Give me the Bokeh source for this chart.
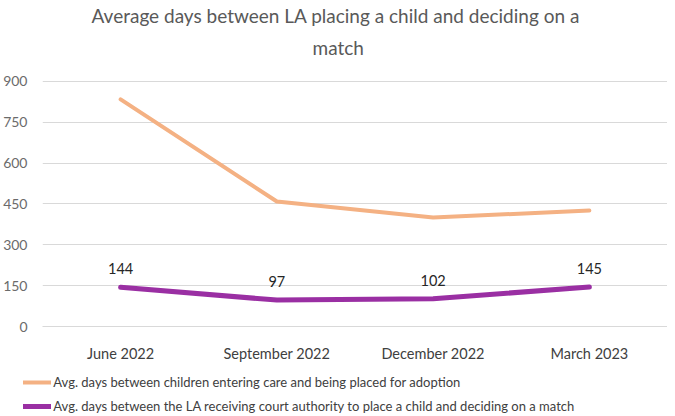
from bokeh.plotting import figure
from bokeh.layouts import column
from bokeh.models import ColumnDataSource, Legend, LegendItem, Range1d, FixedTicker, Title
from bokeh.core.properties import value
from bokeh.embed import file_html
from bokeh.resources import INLINE

categories = ["June 2022", "September 2022", "December 2022", "March 2023"]
series_entering = [834, 459, 400, 426]
series_court = [144, 97, 102, 145]
label_entering = "Avg. days between children entering care and being placed for adoption"
label_court = "Avg. days between the LA receiving court authority to place a child and deciding on a match"
title_lines = ["Average days between LA placing a child and deciding on a", "match"]
y_ticks = [0, 150, 300, 450, 600, 750, 900]

FONT = "Lato"
ORANGE = "#F4B183"
PURPLE = "#9A2FA3"

src = ColumnDataSource(dict(cat=categories, a=series_entering, b=series_court,
                            lab=[str(v) for v in series_court]))

# ---- main chart ----
p = figure(x_range=categories, y_range=Range1d(0, 966), frame_width=625, frame_height=263,
           output_backend="svg", toolbar_location=None,
           min_border_left=34, min_border_right=0, min_border_top=0, min_border_bottom=30)
p.outline_line_color = None

t2 = Title(text=title_lines[1], align="left", offset=270, standoff=10,
           text_font=FONT, text_font_size="19px", text_font_style="normal", text_color="#595959")
t1 = Title(text=title_lines[0], align="left", offset=49, standoff=3,
           text_font=FONT, text_font_size="19px", text_font_style="normal", text_color="#595959")
p.add_layout(t2, "above")
p.add_layout(t1, "above")

p.line("cat", "a", source=src, line_color=ORANGE, line_width=4,
       line_cap="round", line_join="round")
p.line("cat", "b", source=src, line_color=PURPLE, line_width=5,
       line_cap="round", line_join="round")
p.text("cat", "b", text="lab", source=src, text_font=value(FONT), text_font_size="14.5px",
       text_color="#262626", text_align="center", text_baseline="bottom", y_offset=-13)

p.xgrid.grid_line_color = None
p.ygrid.grid_line_color = "#d9d9d9"
p.ygrid.grid_line_width = 1
p.yaxis.ticker = FixedTicker(ticks=y_ticks)
p.yaxis.axis_line_color = None
p.yaxis.major_tick_line_color = None
p.yaxis.minor_tick_line_color = None
p.yaxis.major_label_text_font = FONT
p.yaxis.major_label_text_font_size = "14px"
p.yaxis.major_label_text_color = "#6b6b6b"
p.yaxis.major_label_standoff = 9

p.xaxis.axis_line_color = "#d9d9d9"
p.xaxis.major_tick_line_color = None
p.xaxis.minor_tick_line_color = None
p.xaxis.major_label_text_font = FONT
p.xaxis.major_label_text_font_size = "14.5px"
p.xaxis.major_label_text_color = "#404040"
p.xaxis.major_label_standoff = 12

# ---- legend strip (same series, drawn outside its visible range) ----
pl = figure(x_range=categories, y_range=Range1d(5000, 6000), frame_width=625, frame_height=52,
            output_backend="svg", toolbar_location=None,
            x_axis_location=None, y_axis_location=None,
            min_border_left=34, min_border_right=0, min_border_top=0, min_border_bottom=0)
pl.outline_line_color = None
pl.grid.grid_line_color = None
for g in pl.grid:
    g.visible = False
l1 = pl.line("cat", "a", source=src, line_color=ORANGE, line_width=4, line_cap="round")
l2 = pl.line("cat", "b", source=src, line_color=PURPLE, line_width=5, line_cap="round")

legend = Legend(items=[LegendItem(label=label_entering, renderers=[l1]),
                       LegendItem(label=label_court, renderers=[l2])],
                location=(12, 0), orientation="vertical",
                label_text_font=FONT, label_text_font_size="13px", label_text_color="#404040",
                glyph_width=28, glyph_height=20, label_height=20, label_standoff=2,
                spacing=4, padding=0, margin=0, border_line_color=None,
                background_fill_alpha=0)
pl.add_layout(legend, "center")

layout = column(p, pl, spacing=0)
open("out.html", "w").write(file_html(layout, INLINE))
